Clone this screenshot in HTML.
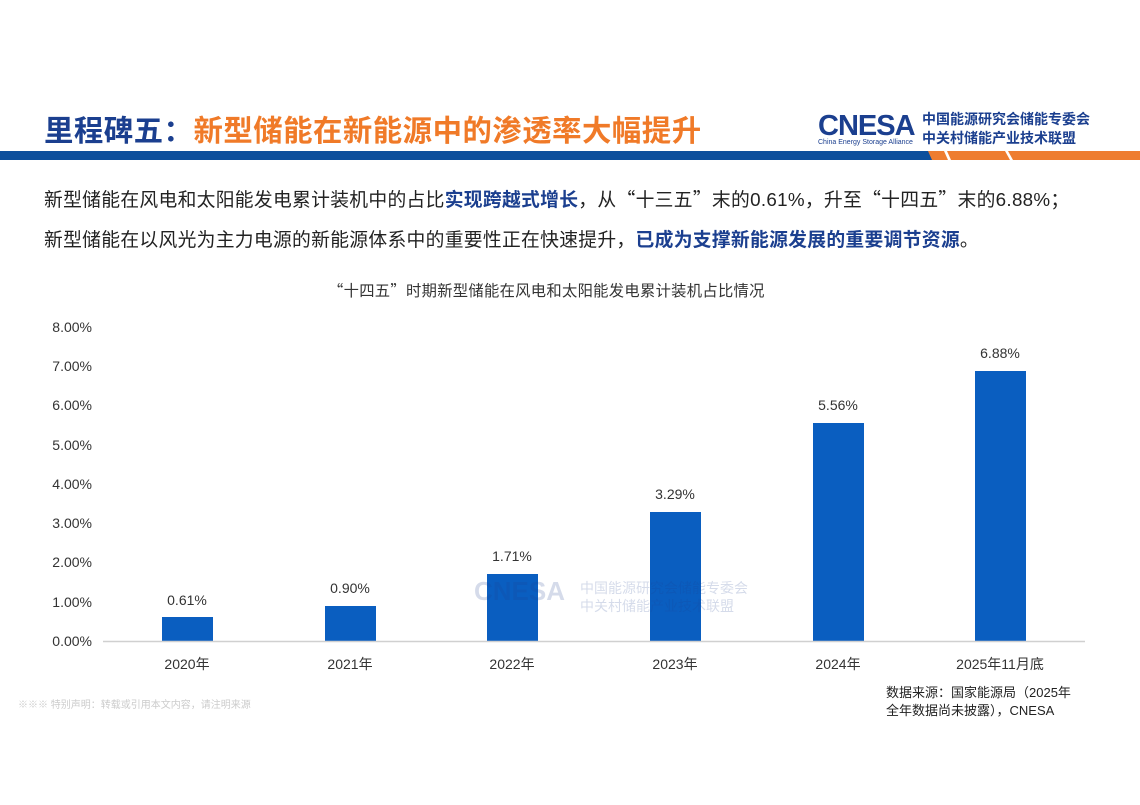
<!DOCTYPE html>
<html><head><meta charset="utf-8"><style>
body{margin:0;width:1140px;height:805px;background:#fff;position:relative;overflow:hidden;font-family:"Liberation Sans","Noto Sans CJK SC",sans-serif;}
.a{position:absolute;white-space:nowrap;}
.q{font-family:"Noto Sans CJK SC",sans-serif;}
</style></head><body>
<div class="a" style="left:44px;top:108px;font-size:29.4px;font-weight:bold;color:#f07a28;letter-spacing:0.5px"><span style="color:#1b3f8f">里程碑五：</span>新型储能在新能源中的渗透率大幅提升</div>
<div class="a" style="left:818px;top:110px;font-size:29px;font-weight:bold;color:#1b3f8f;letter-spacing:-1px">CNESA</div>
<div class="a" style="left:818px;top:139px;font-size:7px;color:#1b3f8f">China Energy Storage Alliance</div>
<div class="a" style="left:922px;top:110px;font-size:14px;font-weight:bold;color:#1b3f8f;line-height:19px">中国能源研究会储能专委会<br>中关村储能产业技术联盟</div>
<svg class="a" style="left:0;top:150px" width="1140" height="12">
<rect x="0" y="1" width="932" height="9" fill="#0d4f9c"/>
<polygon points="928,1 944,1 948,10 932,10" fill="#ee7d30"/>
<polygon points="947,1 1005,1 1010,10 951,10" fill="#ee7d30"/>
<polygon points="1008,1 1140,1 1140,10 1013,10" fill="#ee7d30"/>
</svg>
<div class="a" style="left:44px;top:185px;font-size:18.8px;letter-spacing:0.3px;color:#222">新型储能在风电和太阳能发电累计装机中的占比<b style="color:#1b3f8f">实现跨越式增长</b>，从<span class="q">“</span>十三五<span class="q">”</span>末的0.61%，升至<span class="q">“</span>十四五<span class="q">”</span>末的6.88%；</div>
<div class="a" style="left:44px;top:225px;font-size:18.8px;letter-spacing:0.3px;color:#222">新型储能在以风光为主力电源的新能源体系中的重要性正在快速提升，<b style="color:#1b3f8f">已成为支撑新能源发展的重要调节资源</b>。</div>
<div class="a" style="left:328px;top:279px;font-size:15.3px;letter-spacing:0.3px;color:#333"><span class="q">“</span>十四五<span class="q">”</span>时期新型储能在风电和太阳能发电累计装机占比情况</div>
<svg class="a" style="left:0;top:0" width="1140" height="805" font-family="Liberation Sans, Noto Sans CJK SC, sans-serif" font-size="14" fill="#333">
<g text-anchor="end">
<text x="92" y="332">8.00%</text><text x="92" y="371">7.00%</text><text x="92" y="410">6.00%</text><text x="92" y="450">5.00%</text><text x="92" y="489">4.00%</text><text x="92" y="528">3.00%</text><text x="92" y="567">2.00%</text><text x="92" y="607">1.00%</text><text x="92" y="646">0.00%</text>
</g>
<g fill="#0a5ec0">
<rect x="162" y="617" width="51" height="24"/>
<rect x="325" y="606" width="51" height="35"/>
<rect x="487" y="574" width="51" height="67"/>
<rect x="650" y="512" width="51" height="129"/>
<rect x="813" y="423" width="51" height="218"/>
<rect x="975" y="371" width="51" height="270"/>
</g>
<line x1="103" y1="641.5" x2="1085" y2="641.5" stroke="#d0d0d0" stroke-width="1.5"/>
<g text-anchor="middle">
<text x="187" y="605">0.61%</text><text x="350" y="593">0.90%</text><text x="512" y="561">1.71%</text><text x="675" y="499">3.29%</text><text x="838" y="410">5.56%</text><text x="1000" y="358">6.88%</text>
<text x="187" y="669">2020年</text><text x="350" y="669">2021年</text><text x="512" y="669">2022年</text><text x="675" y="669">2023年</text><text x="838" y="669">2024年</text><text x="1000" y="669">2025年11月底</text>
</g>
<g opacity="0.18" fill="#1b3f8f"><text x="474" y="600" font-size="26" font-weight="bold">CNESA</text><text x="580" y="593" font-size="14">中国能源研究会储能专委会</text><text x="580" y="611" font-size="14">中关村储能产业技术联盟</text></g>
<text x="886" y="697" font-size="13" fill="#222">数据来源：国家能源局（2025年</text>
<text x="886" y="715" font-size="13" fill="#222">全年数据尚未披露），CNESA</text>
<text x="18" y="708" font-size="10" fill="#ccc">※※※ 特别声明：转载或引用本文内容，请注明来源</text>
</svg>
</body></html>
